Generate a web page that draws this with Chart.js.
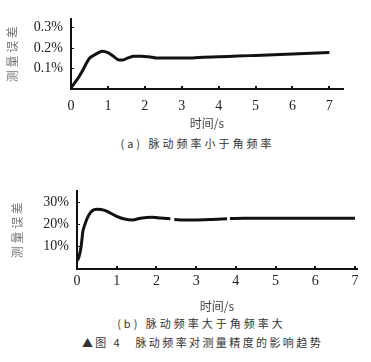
<!DOCTYPE html>
<html>
<head>
<meta charset="utf-8">
<script src="https://cdn.jsdelivr.net/npm/chart.js@4.4.0/dist/chart.umd.min.js"></script>
<style>
  body { margin: 0; background: #fff; width: 371px; height: 362px; position: relative; overflow: hidden; }
  .box { position: absolute; left: 0; width: 371px; }
  .cap { position: absolute; width: 371px; text-align: center; color: #333;
         font-family: "Noto Sans CJK SC", sans-serif; font-size: 11px; letter-spacing: 3px; line-height: 14px; }
</style>
</head>
<body>
<div class="box" style="top:0;height:132px"><canvas id="chartA"></canvas></div>
<div class="cap" style="top:136px;left:12px">(a) 脉动频率小于角频率</div>
<div class="box" style="top:172px;height:142px"><canvas id="chartB"></canvas></div>
<div class="cap" style="top:316px;left:16px">(b) 脉动频率大于角频率大</div>
<div class="cap" style="top:335px;left:17px;letter-spacing:2.4px">▲图 4　脉动频率对测量精度的影响趋势</div>
<script>
// (a) pulse frequency below corner frequency, error in %
const timeA = [0, 0.1, 0.2, 0.3, 0.4, 0.5, 0.6, 0.75, 0.85, 1.0, 1.15, 1.3, 1.4, 1.55, 1.7, 1.9, 2.1, 2.3, 2.6, 3.0, 3.3, 3.6, 4.0, 4.5, 5.0, 5.5, 6.0, 6.5, 7.0];
const errA  = [0.005, 0.03, 0.055, 0.085, 0.12, 0.15, 0.162, 0.178, 0.185, 0.178, 0.16, 0.142, 0.142, 0.152, 0.16, 0.16, 0.157, 0.152, 0.151, 0.151, 0.152, 0.155, 0.157, 0.161, 0.164, 0.167, 0.171, 0.175, 0.178];

// (b) pulse frequency above corner frequency, error in %
const timeB = [0, 0.05, 0.1, 0.15, 0.2, 0.25, 0.35, 0.5, 0.7, 0.85, 1.0, 1.2, 1.4, 1.6, 1.9, 2.1, 2.35, 2.4, 2.45, 2.7, 3.0, 3.4, 3.78, 3.8, 3.85, 4.2, 4.5, 5.0, 6.0, 7.0];
const errB  = [3.6, 5.5, 9.6, 17, 20, 22.5, 25.6, 26.8, 26.3, 25, 23.6, 22.4, 22, 22.8, 23.2, 22.9, 22.5, null, 22.2, 22, 22, 22.2, 22.5, null, 22.6, 22.8, 22.8, 22.8, 22.8, 22.8];

const yTitle = "测 量 误 差";
const xTitle = "时间/s";

const tickFont = { family: "Liberation Serif", size: 14 };
const titleFont = { family: "Noto Sans CJK SC", size: 12 };

function makeChart(id, times, errs, cfg) {
  return new Chart(document.getElementById(id), {
    type: "line",
    data: {
      datasets: [{
        data: times.map((t, i) => ({ x: t, y: errs[i] })),
        borderColor: "#111",
        borderWidth: 3,
        pointRadius: 0,
        cubicInterpolationMode: "monotone",
        spanGaps: false,
        fill: false,
      }],
    },
    options: {
      responsive: true,
      maintainAspectRatio: false,
      animation: false,
      layout: { padding: cfg.padding },
      plugins: { legend: { display: false }, tooltip: { enabled: false } },
      scales: {
        x: {
          type: "linear",
          min: 0,
          max: cfg.xMax,
          border: { color: "#111", width: 2 },
          // negative tick length puts the small marks inside the plot, as in the print
          grid: { drawOnChartArea: false, color: "#111", tickLength: -3, lineWidth: 2 },
          ticks: { stepSize: 1, includeBounds: false, color: "#222", font: tickFont, padding: cfg.xTickPad + 5, maxRotation: 0 },
          title: { display: true, text: xTitle, color: "#444", font: { family: "Noto Sans CJK SC", size: 12 }, padding: { top: 0, bottom: cfg.xTitlePad } },
          afterFit: (s) => { s.height = cfg.xHeight; },
        },
        y: {
          min: 0,
          max: cfg.yMax,
          border: { color: "#111", width: 2 },
          grid: { drawOnChartArea: false, color: "#111", tickLength: -3 },
          ticks: {
            stepSize: cfg.yStep,
            includeBounds: false,
            color: "#222",
            font: tickFont,
            padding: 11,
            callback: (v) => (v === 0 ? "" : v.toFixed(cfg.dec) + "%"),
          },
          title: { display: true, text: yTitle, color: "#777", font: titleFont, padding: { top: cfg.yTitlePad, bottom: 0 } },
          afterFit: (s) => { s.width = cfg.yWidth; },
        },
      },
    },
  });
}

makeChart("chartA", timeA, errA, {
  padding: { top: 5, right: 28, left: 0, bottom: 0 },
  xMax: 7.37, yMax: 0.34, yStep: 0.1, dec: 1,
  xHeight: 43, xTickPad: 7, xTitlePad: 1, yWidth: 71, yTitlePad: 5,
});

makeChart("chartB", timeB, errB, {
  padding: { top: 10, right: 14, left: 0, bottom: 0 },
  xMax: 7.05, yMax: 34.8, yStep: 10, dec: 0,
  xHeight: 45, xTickPad: 2, xTitlePad: 0, yWidth: 77, yTitlePad: 10,
});
</script>
</body>
</html>
